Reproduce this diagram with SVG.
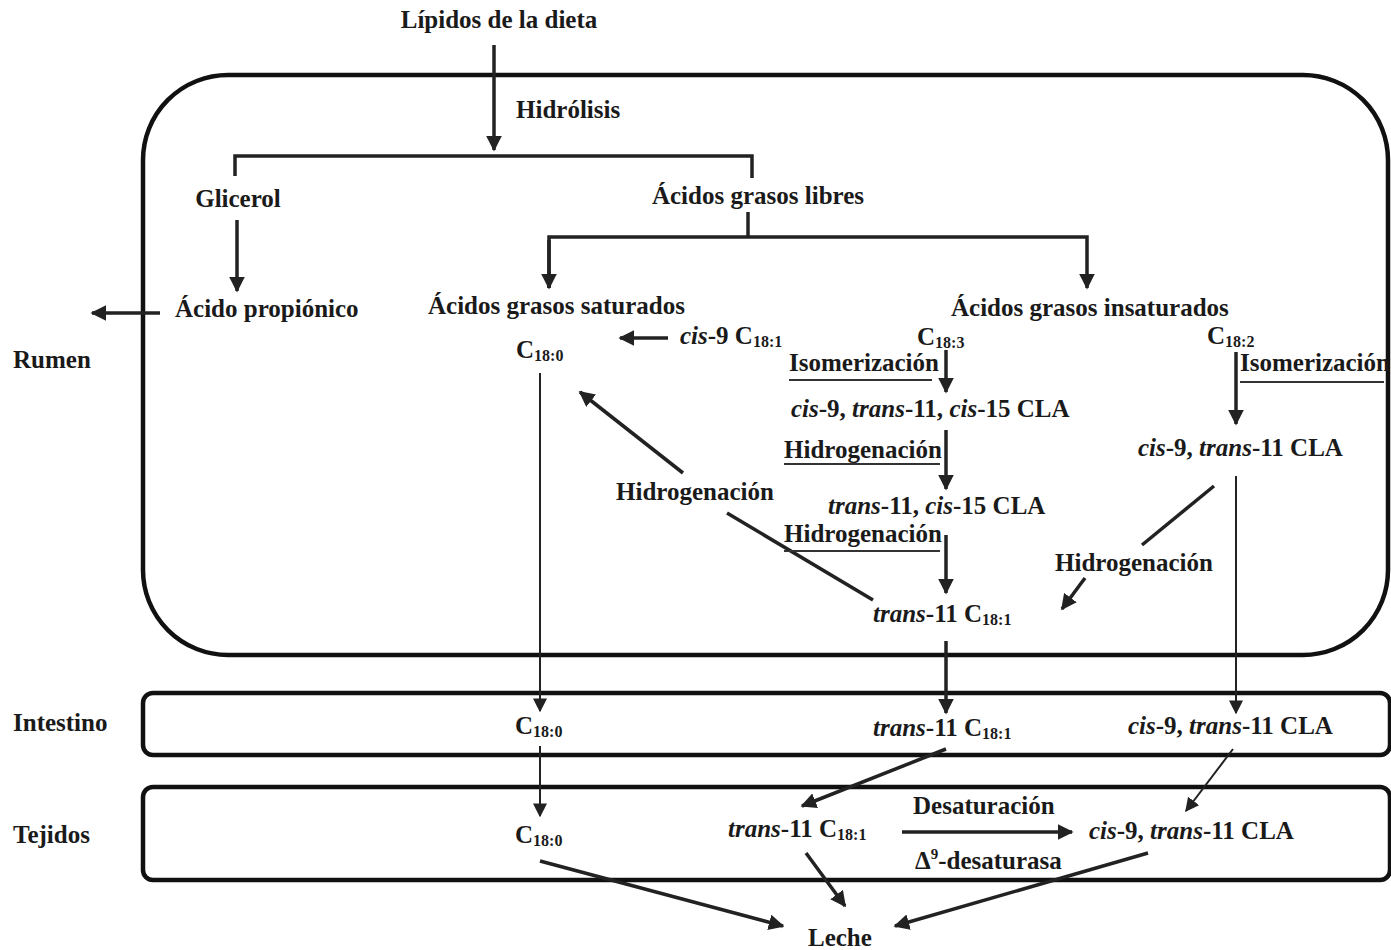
<svg xmlns="http://www.w3.org/2000/svg" width="1391" height="950" viewBox="0 0 1391 950">
<style>
text{font-family:"Liberation Serif","Times New Roman",serif;font-weight:bold;font-size:25px;fill:#1a1a1a}
.i{font-style:italic}
.s{font-size:16px}
.box{fill:none;stroke:#111;stroke-width:4.5}
.c{stroke:#222;stroke-width:3.5;fill:none}
.t{stroke:#222;stroke-width:2;fill:none}
.u{stroke:#333;stroke-width:2}
</style>
<defs>
<marker id="a" viewBox="0 0 10 10" refX="9" refY="5" markerWidth="4.5" markerHeight="4.5" orient="auto" markerUnits="strokeWidth"><path d="M0,0 L10,5 L0,10 z" fill="#222"/></marker>
<marker id="b" viewBox="0 0 10 10" refX="9" refY="5" markerWidth="7" markerHeight="7" orient="auto" markerUnits="strokeWidth"><path d="M0,0 L10,5 L0,10 z" fill="#222"/></marker>
</defs>
<rect id="rumen-box" class="box" x="143" y="75" width="1245" height="580" rx="85" ry="85"/>
<rect id="intestino-box" class="box" x="143" y="693" width="1247" height="62" rx="10" ry="10"/>
<rect id="tejidos-box" class="box" x="143" y="787" width="1247" height="93" rx="10" ry="10"/>
<g id="connectors">
<line class="c" x1="494" y1="45" x2="494" y2="150" marker-end="url(#a)"/>
<polyline class="c" points="235,176 235,156 752,156 752,178"/>
<line class="c" x1="237" y1="220" x2="237" y2="291" marker-end="url(#a)"/>
<line class="c" x1="160" y1="313" x2="92" y2="313" marker-end="url(#a)"/>
<line class="c" x1="748" y1="212" x2="748" y2="237"/>
<polyline class="c" points="549,288 549,237 1087,237 1087,288" marker-end="url(#a)"/>
<line class="c" x1="549" y1="240" x2="549" y2="288" marker-end="url(#a)"/>
<line class="c" x1="668" y1="338" x2="620" y2="338" marker-end="url(#a)"/>
<line class="c" x1="946" y1="350" x2="946" y2="392" marker-end="url(#a)"/>
<line class="c" x1="946" y1="430" x2="946" y2="489" marker-end="url(#a)"/>
<line class="c" x1="946" y1="535" x2="946" y2="593" marker-end="url(#a)"/>
<line class="c" x1="946" y1="641" x2="946" y2="713" marker-end="url(#a)"/>
<line class="c" x1="1236" y1="352" x2="1236" y2="424" marker-end="url(#a)"/>
<line class="t" x1="1236" y1="476" x2="1236" y2="713" marker-end="url(#b)"/>
<line class="c" x1="1214" y1="486" x2="1142" y2="545"/>
<line class="c" x1="1085" y1="578" x2="1062" y2="609" marker-end="url(#a)"/>
<line class="c" x1="873" y1="600" x2="727" y2="513"/>
<line class="c" x1="683" y1="473" x2="580" y2="392" marker-end="url(#a)"/>
<line class="t" x1="540" y1="373" x2="540" y2="711" marker-end="url(#b)"/>
<line class="t" x1="540" y1="746" x2="540" y2="816" marker-end="url(#b)"/>
<line class="c" x1="946" y1="749" x2="802" y2="806" marker-end="url(#a)"/>
<line class="t" x1="1233" y1="749" x2="1186" y2="811" marker-end="url(#b)"/>
<line class="c" x1="902" y1="832" x2="1072" y2="832" marker-end="url(#a)"/>
<line class="c" x1="540" y1="861" x2="783" y2="926" marker-end="url(#a)"/>
<line class="c" x1="806" y1="853" x2="845" y2="906" marker-end="url(#a)"/>
<line class="c" x1="1148" y1="853" x2="895" y2="926" marker-end="url(#a)"/>
<line class="u" x1="789" y1="380" x2="932" y2="380"/>
<line class="u" x1="784" y1="464" x2="940" y2="464"/>
<line class="u" x1="784" y1="551" x2="940" y2="551"/>
<line class="u" x1="1240" y1="382" x2="1384" y2="382"/>
</g>
<g id="labels-side">
<text x="13" y="368">Rumen</text>
<text x="13" y="731">Intestino</text>
<text x="13" y="843">Tejidos</text>
</g>
<g id="n-lipidos"><text x="499" y="28" text-anchor="middle">Lípidos de la dieta</text></g>
<g id="n-hidrolisis"><text x="516" y="118">Hidrólisis</text></g>
<g id="n-glicerol"><text x="238" y="207" text-anchor="middle">Glicerol</text></g>
<g id="n-propionico"><text x="175" y="317">Ácido propiónico</text></g>
<g id="n-agl"><text x="758" y="204" text-anchor="middle">Ácidos grasos libres</text></g>
<g id="n-ags"><text x="428" y="314">Ácidos grasos saturados</text></g>
<g id="n-agi"><text x="951" y="316">Ácidos grasos insaturados</text></g>
<g id="n-c180"><text x="516" y="358">C<tspan class="s" dy="3">18:0</tspan></text></g>
<g id="n-cis9c181"><text x="680" y="344"><tspan class="i">cis</tspan>-9 C<tspan class="s" dy="3">18:1</tspan></text></g>
<g id="n-c183"><text x="917" y="345">C<tspan class="s" dy="3">18:3</tspan></text></g>
<g id="n-c182"><text x="1207" y="344">C<tspan class="s" dy="3">18:2</tspan></text></g>
<g id="n-iso1"><text x="789" y="371">Isomerización</text></g>
<g id="n-iso2"><text x="1240" y="371">Isomerización</text></g>
<g id="n-cla3"><text x="791" y="417"><tspan class="i">cis</tspan>-9, <tspan class="i">trans</tspan>-11, <tspan class="i">cis</tspan>-15 CLA</text></g>
<g id="n-hid1"><text x="784" y="458">Hidrogenación</text></g>
<g id="n-cla2"><text x="828" y="514"><tspan class="i">trans</tspan>-11, <tspan class="i">cis</tspan>-15 CLA</text></g>
<g id="n-hid2"><text x="784" y="542">Hidrogenación</text></g>
<g id="n-t11"><text x="873" y="622"><tspan class="i">trans</tspan>-11 C<tspan class="s" dy="3">18:1</tspan></text></g>
<g id="n-cla-r"><text x="1138" y="456"><tspan class="i">cis</tspan>-9, <tspan class="i">trans</tspan>-11 CLA</text></g>
<g id="n-hid3"><text x="1055" y="571">Hidrogenación</text></g>
<g id="n-hid4"><text x="616" y="500">Hidrogenación</text></g>
<g id="n-int-c180"><text x="515" y="734">C<tspan class="s" dy="3">18:0</tspan></text></g>
<g id="n-int-t11"><text x="873" y="736"><tspan class="i">trans</tspan>-11 C<tspan class="s" dy="3">18:1</tspan></text></g>
<g id="n-int-cla"><text x="1128" y="734"><tspan class="i">cis</tspan>-9, <tspan class="i">trans</tspan>-11 CLA</text></g>
<g id="n-tej-c180"><text x="515" y="843">C<tspan class="s" dy="3">18:0</tspan></text></g>
<g id="n-tej-t11"><text x="728" y="837"><tspan class="i">trans</tspan>-11 C<tspan class="s" dy="3">18:1</tspan></text></g>
<g id="n-desat"><text x="913" y="814">Desaturación</text></g>
<g id="n-d9"><text x="915" y="869">Δ<tspan font-size="15" dy="-10">9</tspan><tspan dy="10">-desaturasa</tspan></text></g>
<g id="n-tej-cla"><text x="1089" y="839"><tspan class="i">cis</tspan>-9, <tspan class="i">trans</tspan>-11 CLA</text></g>
<g id="n-leche"><text x="808" y="946">Leche</text></g>
</svg>
